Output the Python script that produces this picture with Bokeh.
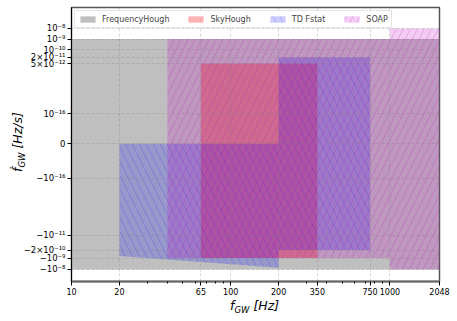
import math
from bokeh.plotting import figure
from bokeh.layouts import column
from bokeh.models import (Range1d, FixedTicker, CustomJSTickFormatter, PrintfTickFormatter,
                          Legend, LegendItem, Div)
from bokeh.embed import file_html
from bokeh.resources import INLINE

# ---------------- data ----------------
pipelines = ["FrequencyHough", "SkyHough", "TD Fstat", "SOAP"]

fh_f = [10, 2048]                 # Hz
fh_fdot = [-1e-8, 1e-9]           # Hz/s

sky_f = [65, 350]
sky_fdot = [-1e-9, 5e-12]

td_f1 = [20, 200]
td_fdot1_top = [0.0, 0.0]
td_fdot1_bottom = [-6.8e-10, -7.2e-9]
td_f2 = [200, 750]
td_fdot2 = [-2e-10, 2e-11]

soap_f1 = [40, 1000]
soap_fdot1 = [-1e-9, 1e-9]
soap_f2 = [1000, 2048]
soap_fdot2 = [-1e-8, 1e-8]

x_ticks = [10, 20, 65, 100, 200, 350, 750, 1000, 2048]
x_minor = [30, 40, 50, 60, 70, 80, 90, 300, 400, 500, 600, 700, 800, 900]
y_tick_values = [1e-8, 1e-9, 1e-10, 2e-11, 5e-12, 1e-16, 0.0,
                 -1e-16, -1e-11, -2e-10, -1e-9, -1e-8]
y_tick_labels = ["10⁻⁸", "10⁻⁹", "10⁻¹⁰", "2×10⁻¹¹", "5×10⁻¹²", "10⁻¹⁶", "0",
                 "−10⁻¹⁶", "−10⁻¹¹", "−2×10⁻¹⁰", "−10⁻⁹", "−10⁻⁸"]

# ---------------- symmetric-log style transform for the y scale ----------------
LINTHRESH = 1e-16
POS_LIN, POS_DEC = 30.3, 10.63
NEG_LIN, NEG_DEC = 34.4, 11.40


def sy(v):
    if v == 0:
        return 0.0
    a = abs(v)
    if v > 0:
        L, D = POS_LIN, POS_DEC
    else:
        L, D = NEG_LIN, NEG_DEC
    if a < LINTHRESH:
        t = a / LINTHRESH * L
    else:
        t = L + D * math.log10(a / LINTHRESH)
    return t if v > 0 else -t


def rect(f, fd):
    return ([f[0], f[1], f[1], f[0]], [sy(fd[0]), sy(fd[0]), sy(fd[1]), sy(fd[1])])


FONT = "DejaVu Sans"

p = figure(width=457, height=321, x_axis_type="log",
           x_range=Range1d(10, 2048), y_range=Range1d(-137.7, 136.3),
           output_backend="svg", toolbar_location=None,
           min_border_left=71, min_border_right=18, min_border_top=7, min_border_bottom=40)
p.background_fill_color = "white"
p.border_fill_color = "white"
p.outline_line_color = "#555555"
p.outline_line_width = 1.5

# FrequencyHough
xs, ys = rect(fh_f, fh_fdot)
r_fh = p.patches(xs=[xs], ys=[ys], fill_color="grey", fill_alpha=0.5, line_color=None)

# SkyHough
xs, ys = rect(sky_f, sky_fdot)
r_sky = p.patches(xs=[xs], ys=[ys], fill_color="red", fill_alpha=0.3, line_color=None)

# TD Fstat
td_xs1 = [td_f1[0], td_f1[1], td_f1[1], td_f1[0]]
td_ys1 = [sy(td_fdot1_bottom[0]), sy(td_fdot1_bottom[1]), sy(td_fdot1_top[1]), sy(td_fdot1_top[0])]
td_xs2, td_ys2 = rect(td_f2, td_fdot2)
r_td = p.patches(xs=[td_xs1, td_xs2], ys=[td_ys1, td_ys2], fill_color="blue", fill_alpha=0.2,
                 line_color=None, hatch_pattern="\\", hatch_color="blue", hatch_alpha=0.2,
                 hatch_scale=14, hatch_weight=0.8)

# SOAP
s_xs1, s_ys1 = rect(soap_f1, soap_fdot1)
s_xs2, s_ys2 = rect(soap_f2, soap_fdot2)
r_soap = p.patches(xs=[s_xs1, s_xs2], ys=[s_ys1, s_ys2], fill_color="#bf00bf", fill_alpha=0.2,
                   line_color=None, hatch_pattern="/", hatch_color="#bf00bf", hatch_alpha=0.25,
                   hatch_scale=14, hatch_weight=0.8)

# ---------------- axes ----------------
p.xaxis.ticker = FixedTicker(ticks=x_ticks, minor_ticks=x_minor)
p.xaxis.formatter = PrintfTickFormatter(format="%d")
y_pos = [sy(v) for v in y_tick_values]
order = sorted(range(len(y_pos)), key=lambda i: y_pos[i])
y_pos_sorted = [y_pos[i] for i in order]
y_lab_sorted = [y_tick_labels[i] for i in order]
p.yaxis.ticker = FixedTicker(ticks=y_pos_sorted)
p.yaxis.formatter = CustomJSTickFormatter(args=dict(vals=y_pos_sorted, labels=y_lab_sorted), code="""
let best = 0, bd = Infinity;
for (let i = 0; i < vals.length; i++) { const d = Math.abs(vals[i] - tick); if (d < bd) { bd = d; best = i; } }
return labels[best];
""")

for ax in (p.xaxis[0], p.yaxis[0]):
    ax.major_label_text_font = FONT
    ax.major_label_text_font_size = "8px"
    ax.major_label_text_color = "black"
    ax.major_tick_in = 0
    ax.major_tick_out = 4
    ax.minor_tick_in = 0
    ax.minor_tick_out = 2
    ax.major_label_standoff = 2
p.yaxis.major_label_text_font_size = "8.5px"
p.yaxis.axis_line_color = "black"
p.yaxis.axis_line_width = 1
p.xaxis.axis_line_color = "#666666"
p.xaxis.axis_line_width = 2

for g in (p.xgrid[0], p.ygrid[0]):
    g.grid_line_color = "#808080"
    g.grid_line_alpha = 0.4
    g.grid_line_dash = "3 2"
    g.grid_line_width = 0.8
    g.level = "guide"
p.xgrid.ticker = FixedTicker(ticks=x_ticks)
p.ygrid.ticker = FixedTicker(ticks=y_pos_sorted)

# ---------------- legend ----------------
legend = Legend(items=[LegendItem(label=pipelines[0], renderers=[r_fh]),
                       LegendItem(label=pipelines[1], renderers=[r_sky]),
                       LegendItem(label=pipelines[2], renderers=[r_td]),
                       LegendItem(label=pipelines[3], renderers=[r_soap])],
                orientation="horizontal", location="top_left")
legend.margin = 3
legend.padding = 3
legend.spacing = 17
legend.glyph_width = 19
legend.glyph_height = 8
legend.label_height = 10
legend.label_standoff = 5
legend.label_text_font = FONT
legend.label_text_font_size = "8px"
legend.border_line_color = "#cccccc"
legend.border_line_width = 1
legend.background_fill_alpha = 0.8
p.add_layout(legend)

# ---------------- axis titles (with subscripts, as HTML text) ----------------
span_style = "font-family:'DejaVu Sans';font-style:italic;font-size:12.5px;line-height:14px;white-space:nowrap;color:black"
sub_style = "font-size:8.5px;position:relative;top:3px"
x_title = Div(text=f'<span style="{span_style}">f<span style="{sub_style}">GW</span> [Hz]</span>',
              width=70, height=14, margin=0,
              styles={"position": "absolute", "left": "230px", "top": "298px"})
y_title = Div(text=f'<span style="{span_style}">ḟ<span style="{sub_style}">GW</span> [Hz/s]</span>',
              width=80, height=14, margin=0,
              styles={"position": "absolute", "left": "10px", "top": "172px",
                      "transform": "rotate(-90deg)", "transform-origin": "0 0"})

layout = column(p, x_title, y_title, margin=0, spacing=0)
open("out.html", "w").write(file_html(layout, INLINE))
